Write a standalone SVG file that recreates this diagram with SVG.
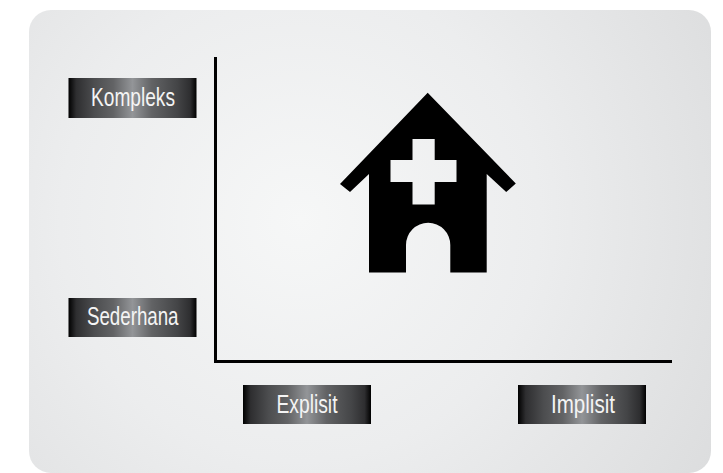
<svg xmlns="http://www.w3.org/2000/svg" width="723" height="473" viewBox="0 0 723 473">
<style>
.lbl{font-family:"Liberation Sans Narrow","Liberation Sans",Arial,sans-serif;font-size:26.500px;fill:#f4f4f4;text-anchor:start}
.box{fill:url(#btn)}
</style>
<defs>
<linearGradient id="btn" x1="0" y1="0" x2="1" y2="0">
<stop offset="0" stop-color="#000"/>
<stop offset=".06" stop-color="#2e2e30"/>
<stop offset=".2" stop-color="#4c4d4f"/>
<stop offset=".35" stop-color="#626365"/>
<stop offset=".5" stop-color="#939598"/>
<stop offset=".65" stop-color="#626365"/>
<stop offset=".85" stop-color="#444547"/>
<stop offset=".95" stop-color="#2e2e30"/>
<stop offset="1" stop-color="#000"/>
</linearGradient>
<radialGradient id="bg" gradientUnits="userSpaceOnUse" cx="300" cy="220" r="480">
<stop offset="0" stop-color="#f6f7f7"/>
<stop offset=".5" stop-color="#ecedee"/>
<stop offset="1" stop-color="#dcddde"/>
</radialGradient>
</defs>
<rect width="723" height="473" fill="#fff"/>
<rect id="panel" x="29" y="10" width="682" height="463" rx="22" fill="url(#bg)"/>
<g id="connectors" fill="none" stroke="#000" stroke-width="3">
<path d="M215.500 57V361.500"/>
<path d="M214 361.500H672"/>
</g>
<g id="house">
<path fill-rule="evenodd" fill="#000" d="M427.700 92.700L515.800 183.500L506.200 192L486.700 174V272.500H450.300V245A22 22 0 0 0 406 245V272.500H369V174L350 192L340 184ZM412.500 139V160H390.500V182H412.500V204.500H434.700V182H456.500V160H434.700V139Z"/>
</g>
<g id="kompleks">
<rect class="box" x="68.500" y="78" width="128" height="40"/>
<text class="lbl" x="91" y="105.500" textLength="84" lengthAdjust="spacingAndGlyphs">Kompleks</text>
</g>
<g id="sederhana">
<rect class="box" x="68.500" y="298" width="128" height="39"/>
<text class="lbl" x="87" y="325" textLength="91.500" lengthAdjust="spacingAndGlyphs">Sederhana</text>
</g>
<g id="explisit">
<rect class="box" x="243" y="385" width="128" height="39"/>
<text class="lbl" x="276.500" y="412.500" textLength="61" lengthAdjust="spacingAndGlyphs">Explisit</text>
</g>
<g id="implisit">
<rect class="box" x="518" y="385" width="128" height="39"/>
<text class="lbl" x="551" y="412.500" textLength="64" lengthAdjust="spacingAndGlyphs">Implisit</text>
</g>
</svg>
